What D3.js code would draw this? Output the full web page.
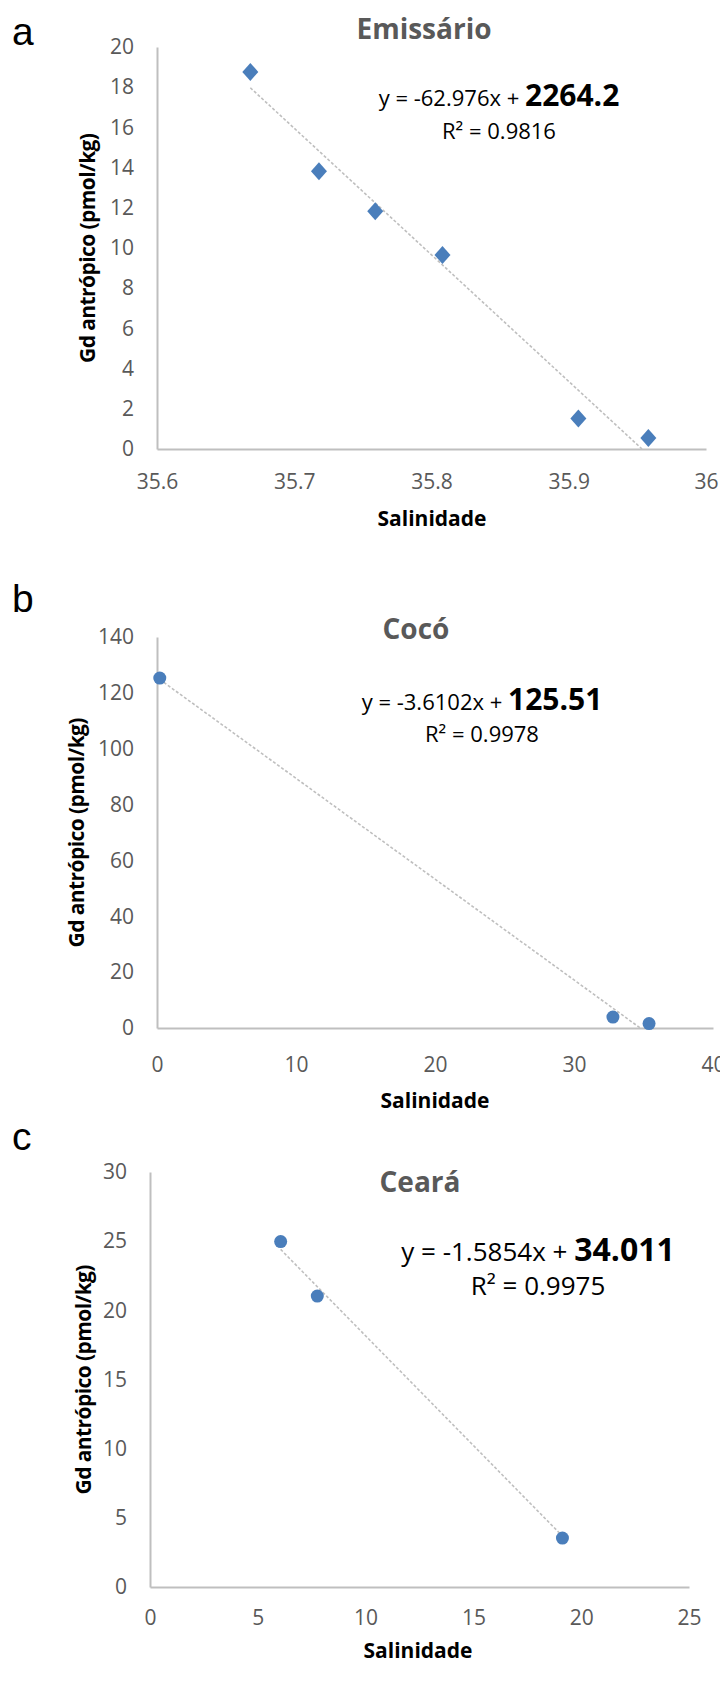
<!DOCTYPE html>
<html>
<head>
<meta charset="utf-8">
<script src="https://cdn.jsdelivr.net/npm/d3@7"></script>
<style>
  body { margin: 0; background: #fff; }
  svg text { font-family: "Open Sans", sans-serif; }
</style>
</head>
<body>
<svg id="chart" width="720" height="1696"></svg>
<script>
// panel a - Emissario
var emissarioSal = [35.668, 35.718, 35.759, 35.808, 35.907, 35.958];
var emissarioGd  = [18.76, 13.82, 11.83, 9.65, 1.52, 0.55];
var emissarioXTicks = [35.6, 35.7, 35.8, 35.9, 36];
var emissarioYTicks = [0, 2, 4, 6, 8, 10, 12, 14, 16, 18, 20];

// panel b - Coco
var cocoSal = [0.2, 32.8, 35.4];
var cocoGd  = [125.3, 3.9, 1.6];
var cocoXTicks = [0, 10, 20, 30, 40];
var cocoYTicks = [0, 20, 40, 60, 80, 100, 120, 140];

// panel c - Ceara
var cearaSal = [6.06, 7.76, 19.13];
var cearaGd  = [24.97, 21.03, 3.54];
var cearaXTicks = [0, 5, 10, 15, 20, 25];
var cearaYTicks = [0, 5, 10, 15, 20, 25, 30];

// trendline coefficients as printed on the chart
var slopes     = [-62.976, -3.6102, -1.5854];
var intercepts = [2264.2, 125.51, 34.011];
var r2s        = ["0.9816", "0.9978", "0.9975"];

var blue = "#4a7ebb", axisGrey = "#bfbfbf", textGrey = "#595959";
var svg = d3.select("#chart");

var panels = [
  {letter: "a", letterY: 45, title: "Emiss\u00e1rio", titleX: 424, titleY: 39,
   sal: emissarioSal, gd: emissarioGd, xTicks: emissarioXTicks, yTicks: emissarioYTicks,
   xRange: [157, 706], yRange: [449, 47], marker: "diamond",
   eqX: 499, eqY: 106, eqSize: 22, eqBold: 30, eqGap: 33, xLabY: 526, xLabX: 432, yLabX: 95, xTickDy: 40},
  {letter: "b", letterY: 612, title: "Coc\u00f3", titleX: 416, titleY: 639,
   sal: cocoSal, gd: cocoGd, xTicks: cocoXTicks, yTicks: cocoYTicks,
   xRange: [157, 713], yRange: [1028, 637], marker: "circle",
   eqX: 482, eqY: 710, eqSize: 22, eqBold: 30, eqGap: 32, xLabY: 1108, xLabX: 435, yLabX: 84, xTickDy: 44},
  {letter: "c", letterY: 1150, title: "Cear\u00e1", titleX: 420, titleY: 1192,
   sal: cearaSal, gd: cearaGd, xTicks: cearaXTicks, yTicks: cearaYTicks,
   xRange: [150, 689], yRange: [1587, 1172], marker: "circle",
   eqX: 538, eqY: 1261, eqSize: 26, eqBold: 32, eqGap: 34, xLabY: 1658, xLabX: 418, yLabX: 91, xTickDy: 38}
];

panels.forEach(function(p, i){
  var x = d3.scaleLinear().domain(d3.extent(p.xTicks)).range(p.xRange);
  var y = d3.scaleLinear().domain(d3.extent(p.yTicks)).range(p.yRange);
  var g = svg.append("g");

  g.append("text").attr("x", 12).attr("y", p.letterY)
    .style("font-family", "'Liberation Sans', Arial, sans-serif")
    .style("font-size", "39px").attr("fill", "#000").text(p.letter);

  // axes
  var ya = g.append("g").attr("transform", "translate(" + p.xRange[0] + ",0)")
    .call(d3.axisLeft(y).tickValues(p.yTicks).tickSize(0).tickPadding(23));
  var xa = g.append("g").attr("transform", "translate(0," + p.yRange[0] + ")")
    .call(d3.axisBottom(x).tickValues(p.xTicks).tickSize(0).tickFormat(d3.format("~f")));
  [ya, xa].forEach(function(a){
    a.select(".domain").attr("stroke", axisGrey).attr("stroke-width", 2);
    a.selectAll("text").attr("fill", textGrey).style("font-size", "21px")
      .style("font-family", "'Open Sans', sans-serif");
  });
  xa.selectAll("text").attr("dy", null).attr("y", p.xTickDy);

  // trendline over data range, clipped at y = 0
  var x0 = d3.min(p.sal), x1 = Math.min(d3.max(p.sal), -intercepts[i] / slopes[i]);
  g.append("line")
    .attr("x1", x(x0)).attr("y1", y(slopes[i] * x0 + intercepts[i]))
    .attr("x2", x(x1)).attr("y2", y(slopes[i] * x1 + intercepts[i]))
    .attr("stroke", axisGrey).attr("stroke-width", 1.6).attr("stroke-dasharray", "3,2");

  // markers
  var pts = p.sal.map(function(s, k){ return [s, p.gd[k]]; });
  if (p.marker === "diamond") {
    g.selectAll("path.pt").data(pts).enter().append("path").attr("class", "pt")
      .attr("d", "M0,-9L8,0L0,9L-8,0Z")
      .attr("transform", function(d){ return "translate(" + x(d[0]) + "," + y(d[1]) + ")"; })
      .attr("fill", blue);
  } else {
    g.selectAll("circle.pt").data(pts).enter().append("circle").attr("class", "pt")
      .attr("cx", function(d){ return x(d[0]); }).attr("cy", function(d){ return y(d[1]); })
      .attr("r", 6.5).attr("fill", blue);
  }

  // title
  g.append("text").attr("x", p.titleX).attr("y", p.titleY).attr("text-anchor", "middle")
    .attr("fill", textGrey).style("font-size", "28px").style("font-weight", "bold").text(p.title);

  // equation
  var eq = g.append("text").attr("x", p.eqX).attr("y", p.eqY).attr("text-anchor", "middle")
    .attr("fill", "#000").style("font-size", p.eqSize + "px");
  eq.append("tspan").text("y = " + slopes[i] + "x + ");
  eq.append("tspan").style("font-weight", "bold").style("font-size", p.eqBold + "px").text(intercepts[i]);
  g.append("text").attr("x", p.eqX).attr("y", p.eqY + p.eqGap).attr("text-anchor", "middle")
    .attr("fill", "#000").style("font-size", p.eqSize + "px").text("R\u00b2 = " + r2s[i]);

  // axis titles
  g.append("text").attr("x", p.xLabX).attr("y", p.xLabY).attr("text-anchor", "middle")
    .style("font-size", "21px").style("font-weight", "bold").text("Salinidade");
  var cy = (p.yRange[0] + p.yRange[1]) / 2;
  g.append("text").attr("transform", "translate(" + p.yLabX + "," + cy + ") rotate(-90)")
    .attr("text-anchor", "middle").style("font-size", "21px").style("font-weight", "bold")
    .attr("textLength", 230).attr("lengthAdjust", "spacing")
    .text("Gd antr\u00f3pico (pmol/kg)");
});
</script>
</body>
</html>
